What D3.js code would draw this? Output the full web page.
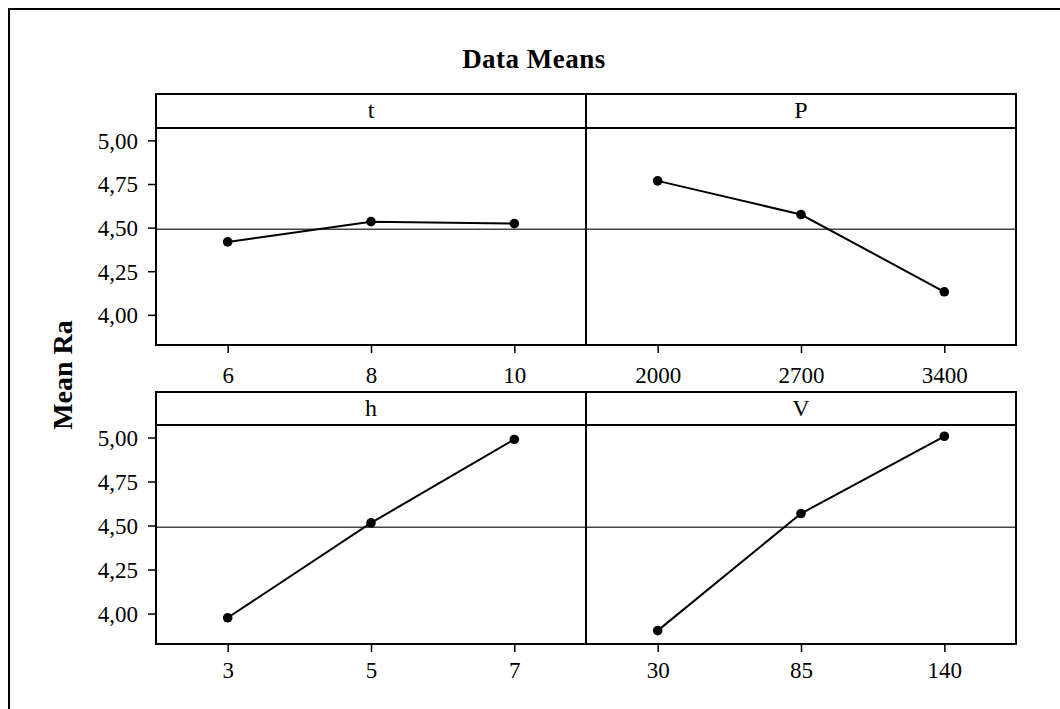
<!DOCTYPE html>
<html>
<head>
<meta charset="utf-8">
<script src="https://cdn.jsdelivr.net/npm/d3@7"></script>
<style>
  body { margin: 0; background: #fff; }
  text { font-family: "Liberation Serif", "Times New Roman", serif; fill: #000; }
  .tick text { font-size: 23px; }
  .tick line { stroke: #000; stroke-width: 1.5; }
  .domain { display: none; }
</style>
</head>
<body>
<div id="chart" style="width:1060px;height:709px;"></div>
<script>

// values
const factors = ["t", "P", "h", "V"];
const levels = [
    ["6", "8", "10"],
    ["2000", "2700", "3400"],
    ["3", "5", "7"],
    ["30", "85", "140"]
];
const means = [
    [4.418, 4.534, 4.523],
    [4.768, 4.575, 4.132],
    [3.976, 4.515, 4.989],
    [3.903, 4.568, 5.007]
];
const grandMean = 4.49;
const yTicks = [4.00, 4.25, 4.50, 4.75, 5.00];
const yDomain = [3.827, 5.071];

const width = 1060;
const height = 709;

const svg = d3.select("#chart")
    .append("svg")
    .attr("width", width)
    .attr("height", height);

// outer frame (runs off the right and bottom edge)
svg.append("rect")
    .attr("x", 9)
    .attr("y", 9)
    .attr("width", 1200)
    .attr("height", 900)
    .attr("fill", "none")
    .attr("stroke", "#000")
    .attr("stroke-width", 2);

svg.append("text")
    .attr("x", 534)
    .attr("y", 68)
    .attr("text-anchor", "middle")
    .style("font-size", "27px")
    .style("font-weight", "bold")
    .style("letter-spacing", "0.5px")
    .text("Data Means");

svg.append("text")
    .attr("transform", "rotate(-90)")
    .attr("x", -375)
    .attr("y", 72)
    .attr("text-anchor", "middle")
    .style("font-size", "28px")
    .style("font-weight", "bold")
    .text("Mean Ra");

// panel layout
const cols = [156, 586, 1016];
const rows = [
    { top: 94, strip: 128, bottom: 345, labelDy: 38 },
    { top: 392, strip: 425, bottom: 644, labelDy: 34 }
];

const decimalComma = d3.formatLocale({ decimal: ",", thousands: ".", grouping: [3], currency: ["", ""] });
const yFormat = decimalComma.format(".2f");

factors.forEach(function(f, i) {

    const row = rows[Math.floor(i / 2)];
    const c = i % 2;
    const x0 = cols[c];
    const x1 = cols[c + 1];

    const xScale = d3.scalePoint()
        .domain(levels[i])
        .range([x0, x1])
        .padding(0.5);

    const yScale = d3.scaleLinear()
        .domain(yDomain)
        .range([row.bottom, row.strip]);

    const g = svg.append("g");

    // reference line at the overall mean
    g.append("line")
        .attr("x1", x0)
        .attr("x2", x1)
        .attr("y1", yScale(grandMean))
        .attr("y2", yScale(grandMean))
        .attr("stroke", "#444")
        .attr("stroke-width", 1.5);

    const pts = levels[i].map(function(l, k) { return [l, means[i][k]]; });

    g.append("path")
        .datum(pts)
        .attr("fill", "none")
        .attr("stroke", "#000")
        .attr("stroke-width", 2)
        .attr("d", d3.line()
            .x(function(d) { return xScale(d[0]); })
            .y(function(d) { return yScale(d[1]); }));

    g.selectAll("circle")
        .data(pts)
        .enter()
        .append("circle")
            .attr("cx", function(d) { return xScale(d[0]); })
            .attr("cy", function(d) { return yScale(d[1]); })
            .attr("r", 4.8)
            .attr("fill", "#000");

    // panel frame + strip
    g.append("rect")
        .attr("x", x0)
        .attr("y", row.top)
        .attr("width", x1 - x0)
        .attr("height", row.bottom - row.top)
        .attr("fill", "none")
        .attr("stroke", "#000")
        .attr("stroke-width", 2);

    g.append("line")
        .attr("x1", x0)
        .attr("x2", x1)
        .attr("y1", row.strip)
        .attr("y2", row.strip)
        .attr("stroke", "#000")
        .attr("stroke-width", 2);

    g.append("text")
        .attr("x", (x0 + x1) / 2)
        .attr("y", row.top + 24)
        .attr("text-anchor", "middle")
        .style("font-size", "24px")
        .text(f);

    // x axis
    const xAxis = g.append("g")
        .attr("transform", `translate(0,${row.bottom})`)
        .call(d3.axisBottom(xScale).tickSize(8).tickPadding(8));
    xAxis.selectAll(".tick text")
        .attr("dy", null)
        .attr("y", row.labelDy);

    // y axis on the left column only
    if (c === 0) {
        const yAxis = g.append("g")
            .attr("transform", `translate(${x0},0)`)
            .call(d3.axisLeft(yScale).tickValues(yTicks).tickFormat(yFormat).tickSize(8).tickPadding(10));
        yAxis.selectAll(".tick text").attr("dy", "0.34em");
    }
});

</script>
</body>
</html>
